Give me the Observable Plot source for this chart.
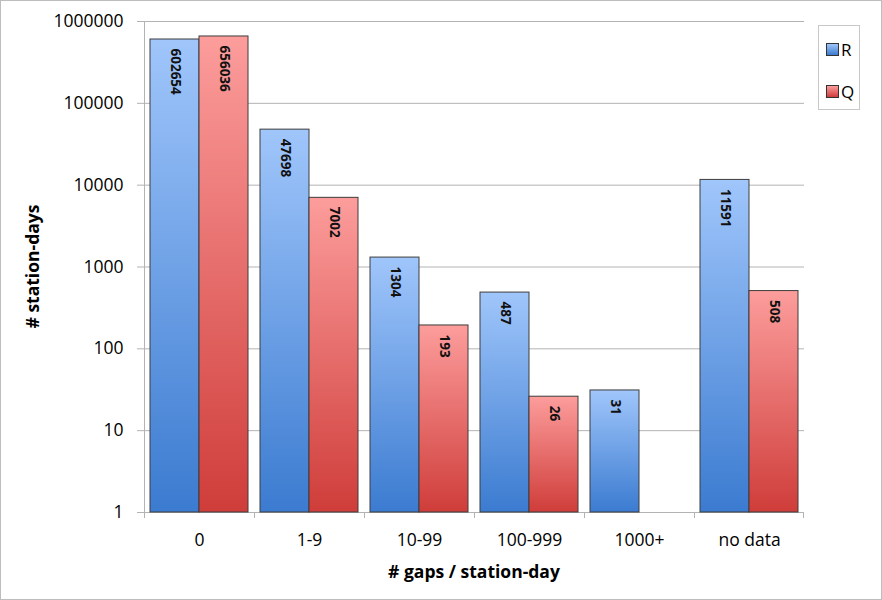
<!DOCTYPE html>
<html><head><meta charset="utf-8">
<script src="https://cdn.jsdelivr.net/npm/d3@7"></script>
<script src="https://cdn.jsdelivr.net/npm/@observablehq/plot@0.6"></script>
<style>
html,body{margin:0;padding:0;background:#fff;}
body{font-family:"Open Sans",sans-serif;}
#wrap{position:relative;width:882px;height:600px;overflow:hidden;}
#chart{position:absolute;left:0;top:0;}
#border{position:absolute;left:0;top:0;width:880px;height:598px;border:1px solid #bdbdbd;pointer-events:none;}
#legend{position:absolute;left:818px;top:25px;width:40px;height:83px;border:1px solid #c8c8c8;background:#fff;}
.item{position:absolute;left:7px;display:flex;align-items:center;font-size:17px;color:#000;}
.sw{width:11px;height:11px;border:1px solid #333;margin-right:2px;}
</style></head>
<body>
<div id="wrap">
<div id="chart"></div>
<div id="legend"></div>
<div id="border"></div>
</div>
<script>
const categories = ["0", "1-9", "10-99", "100-999", "1000+", "no data"];
const seriesNames = ["R", "Q"];
const valuesR = [602654, 47698, 1304, 487, 31, 11591];
const valuesQ = [656036, 7002, 193, 26, null, 508];
const yTicks = [1, 10, 100, 1000, 10000, 100000, 1000000];
const colorsTop = {R: "#a0c6fb", Q: "#fc9d9c"};
const colorsBottom = {R: "#3b7bd0", Q: "#cf3d3a"};

const data = categories.flatMap((c, i) => [
  {cat: c, s: "R", v: valuesR[i]},
  {cat: c, s: "Q", v: valuesQ[i]}
]).filter(d => d.v != null);

const chart = Plot.plot({
  width: 882, height: 600,
  marginLeft: 143, marginRight: 77, marginTop: 21, marginBottom: 88,
  style: {fontFamily: "Open Sans", fontSize: "17px", color: "#000", background: "transparent"},
  y: {type: "log", domain: [1, 1e6], label: null},
  fx: {domain: categories, paddingInner: 0, paddingOuter: 0, label: null},
  x: {domain: seriesNames, paddingInner: 0, paddingOuter: 0.12, axis: null},
  marks: [
    Plot.gridY(yTicks, {stroke: "#b3b3b3", strokeOpacity: 1}),
    Plot.ruleY([1], {stroke: "#b3b3b3"}),
    Plot.axisY(yTicks, {tickSize: 7, tickPadding: 14, stroke: "#b3b3b3", fill: "#000", tickFormat: d => String(d), fontSize: 17.5}),
    Plot.axisFx({anchor: "bottom", tickSize: 0, tickPadding: 21, fill: "#000", fontSize: 17.5}),
    Plot.barY(data.filter(d => d.s === "R"), {fx: "cat", x: "s", y1: 1, y2: "v", fill: "url(#gradR)", stroke: "#3c3c3c", strokeWidth: 1}),
    Plot.barY(data.filter(d => d.s === "Q"), {fx: "cat", x: "s", y1: 1, y2: "v", fill: "url(#gradQ)", stroke: "#3c3c3c", strokeWidth: 1}),
    Plot.text(data, {fx: "cat", x: "s", y: "v", text: d => String(d.v), rotate: 90, textAnchor: "start", dy: 9, fontWeight: "bold", fontSize: 13.5, fill: "#111"})
  ]
});
document.getElementById("chart").appendChild(chart);

const svg = d3.select(chart);
const defs = svg.insert("defs", ":first-child");
for (const s of seriesNames) {
  const g = defs.append("linearGradient").attr("id", "grad" + s).attr("x1", 0).attr("y1", 0).attr("x2", 0).attr("y2", 1);
  g.append("stop").attr("offset", "0%").attr("stop-color", colorsTop[s]);
  g.append("stop").attr("offset", "100%").attr("stop-color", colorsBottom[s]);
}

// axis lines and category boundary ticks
const fx = chart.scale("fx");
const ys = chart.scale("y");
const y0 = ys.apply(1), yTop = ys.apply(1e6);
const left = fx.apply(categories[0]);
const g2 = svg.append("g").attr("stroke", "#b3b3b3");
g2.append("line").attr("x1", left + 0.5).attr("x2", left + 0.5).attr("y1", yTop).attr("y2", y0 + 6);
categories.forEach((c, i) => {
  const xb = fx.apply(c);
  g2.append("line").attr("x1", xb + 0.5).attr("x2", xb + 0.5).attr("y1", y0).attr("y2", y0 + 6);
  if (i === categories.length - 1) {
    const xe = xb + fx.bandwidth;
    g2.append("line").attr("x1", xe - 0.5).attr("x2", xe - 0.5).attr("y1", y0).attr("y2", y0 + 6);
  }
});

// axis titles
const right = fx.apply(categories[categories.length - 1]) + fx.bandwidth;
svg.append("text").attr("x", (left + right) / 2).attr("y", 578).attr("text-anchor", "middle")
  .attr("font-weight", "bold").attr("font-size", 17.5).attr("fill", "#000").text("# gaps / station-day");
svg.append("text").attr("transform", `translate(39,${(y0 + yTop) / 2}) rotate(-90)`).attr("text-anchor", "middle")
  .attr("font-weight", "bold").attr("font-size", 17.5).attr("fill", "#000").text("# station-days");

// legend
const legend = d3.select("#legend");
seriesNames.forEach((s, i) => {
  const it = legend.append("div").attr("class", "item").style("top", (i === 0 ? 12 : 54) + "px");
  it.append("div").attr("class", "sw").style("background", `linear-gradient(${colorsTop[s]}, ${colorsBottom[s]})`);
  it.append("span").text(s);
});
</script>
</body></html>
